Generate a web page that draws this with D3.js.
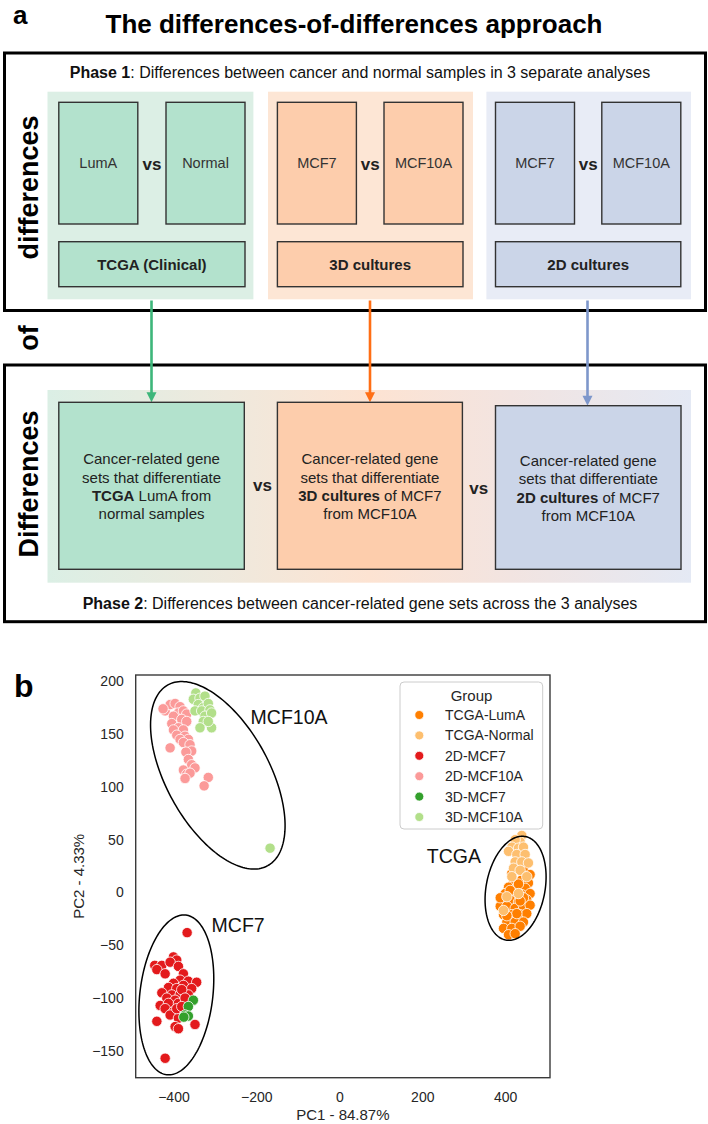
<!DOCTYPE html>
<html><head><meta charset="utf-8">
<script src="https://cdn.jsdelivr.net/npm/d3@7"></script>
<style>body{margin:0;background:#fff}svg{display:block}</style>
</head><body>
<svg id="c" width="708" height="1124"></svg>
<script>
// ---------------- DATA ----------------
const title = "The differences-of-differences approach";
const phase1Label = ["Phase 1", ": Differences between cancer and normal samples in 3 separate analyses"];
const phase2Label = ["Phase 2", ": Differences between cancer-related gene sets across the 3 analyses"];
const phase1Pairs = [["LumA", "Normal"], ["MCF7", "MCF10A"], ["MCF7", "MCF10A"]];
const phase1Sources = ["TCGA (Clinical)", "3D cultures", "2D cultures"];
const phase2Lines = [
  [[["Cancer-related gene", 0]], [["sets that differentiate", 0]], [["TCGA", 1], [" LumA from", 0]], [["normal samples", 0]]],
  [[["Cancer-related gene", 0]], [["sets that differentiate", 0]], [["3D cultures", 1], [" of MCF7", 0]], [["from MCF10A", 0]]],
  [[["Cancer-related gene", 0]], [["sets that differentiate", 0]], [["2D cultures", 1], [" of MCF7", 0]], [["from MCF10A", 0]]]
];
const sideWords = ["differences", "of", "Differences"];
const panelFills = ["#dcefe5", "#fde6d5", "#e8ecf6"];
const boxFills = ["#b3e2cd", "#fdcdac", "#cbd5e8"];
const arrowColors = ["#3db67a", "#ff6e14", "#7e97cb"];

const groups = ["TCGA-LumA", "TCGA-Normal", "2D-MCF7", "2D-MCF10A", "3D-MCF7", "3D-MCF10A"];
const groupColors = ["#ff7f00", "#fdbf6f", "#e31a1c", "#fb9a99", "#33a02c", "#b2df8a"];
const xTicks = [-400, -200, 0, 200, 400];
const yTicks = [-150, -100, -50, 0, 50, 100, 150, 200];
const xLabel = "PC1 - 84.87%";
const yLabel = "PC2 - 4.33%";

const mcf10a2D = [[-420,172],[-408,178],[-396,179],[-384,176],[-425,174],[-388,170],[-376,172],[-368,169],[-400,167],[-380,164],[-368,162],[-404,160],[-388,156],[-400,154],[-376,154],[-392,149],[-372,148],[-384,145],[-364,145],[-376,142],[-360,140],[-408,137],[-356,134],[-370,133],[-364,126],[-356,121],[-348,118],[-376,116],[-368,112],[-360,113],[-372,108],[-316,109],[-326,101]];
const mcf10a3D = [[-346,189],[-352,183],[-336,184],[-324,186],[-340,178],[-328,175],[-316,179],[-348,172],[-332,172],[-312,173],[-324,167],[-308,170],[-328,162],[-336,156],[-308,156],[-316,162],[-167,42]];
const mcf72D = [[-445,-69],[-428,-69],[-440,-73],[-420,-77],[-400,-61],[-392,-64],[-408,-66],[-388,-70],[-376,-77],[-384,-83],[-364,-84],[-344,-85],[-400,-86],[-376,-88],[-412,-90],[-392,-91],[-356,-91],[-428,-95],[-404,-97],[-384,-97],[-364,-97],[-416,-100],[-396,-102],[-368,-103],[-432,-107],[-412,-105],[-388,-105],[-420,-110],[-400,-113],[-408,-116],[-388,-119],[-440,-122],[-348,-125],[-396,-127],[-388,-129],[-420,-157],[-367,-38],[-380,-92],[-372,-100],[-392,-110],[-380,-108]];
const mcf73D = [[-352,-102],[-364,-108],[-372,-116],[-364,-117],[-375,-118]];
const tcgaLumA = [[444,21],[460,17],[420,10],[440,12],[456,9],[408,5],[428,5],[448,4],[400,-1],[420,-1],[440,-2],[460,-1],[392,-7],[412,-7],[432,-9],[452,-7],[388,-13],[404,-13],[424,-15],[444,-13],[460,-12],[396,-21],[416,-21],[436,-21],[452,-20],[404,-28],[424,-28],[444,-28],[396,-34],[416,-34],[436,-32],[408,-40],[424,-39],[388,-5],[416,18],[412,2],[432,8],[428,-20],[444,-5],[404,-22],[436,-8]];
const tcgaNormal = [[440,54],[436,48],[424,50],[416,43],[432,42],[444,43],[408,39],[428,36],[448,36],[424,29],[440,29],[456,28],[420,23],[436,21],[416,15],[452,15],[404,-4],[396,-17],[432,-1]];

// confidence ellipses (data units): centre and two conjugate half-axis vectors
const ellipses = [
  {label: "MCF10A", c: [-293, 111], u: [120.3, -85.6], v: [-108.8, -23.6], at: [-214, 160]},
  {label: "MCF7",   c: [-393, -97], u: [23.0, 75.6],   v: [87.3, -4.1],    at: [-308, -37]},
  {label: "TCGA",   c: [425, 4],    u: [23.6, 49.0],   v: [69.7, -5.2],    at: [211, 28]}
];

// ---------------- DRAW ----------------
const FONT = "'Liberation Sans', Arial, Helvetica, sans-serif";
const svg = d3.select("#c");
const defs = svg.append("defs");

// ===== Panel a =====
svg.append("text").attr("x", 13).attr("y", 24).attr("font-family", FONT)
  .attr("font-weight", "bold").attr("font-size", 26).text("a");
svg.append("text").attr("x", 354).attr("y", 33).attr("text-anchor", "middle")
  .attr("font-family", FONT).attr("font-weight", "bold").attr("font-size", 26).text(title);

const cols = [
  {bg: [47.5, 253.4], l: 58.8, r: 166, ax: 151.5, p2: [58.8, 244.3], p2top: 402.3},
  {bg: [268, 473],    l: 277.4, r: 384, ax: 370, p2: [277.4, 462.4], p2top: 402.3},
  {bg: [486.4, 691],  l: 495.5, r: 601.8, ax: 587.5, p2: [495.5, 681], p2top: 405.7}
];
const tallW = 79, tallTop = 102.3, tallBot = 224, srcTop = 241.7, srcBot = 286.7;

// panel 1 backgrounds
cols.forEach((c, i) => {
  svg.append("rect").attr("x", c.bg[0]).attr("y", 91.7).attr("width", c.bg[1] - c.bg[0])
    .attr("height", 299.3 - 91.7).attr("fill", panelFills[i]);
});
// outer box 1
svg.append("rect").attr("x", 4.5).attr("y", 53).attr("width", 701).attr("height", 257.5)
  .attr("fill", "none").attr("stroke", "#000").attr("stroke-width", 3);

const p1 = svg.append("text").attr("x", 360).attr("y", 77.5).attr("text-anchor", "middle")
  .attr("font-family", FONT).attr("font-size", 16).attr("fill", "#111");
p1.append("tspan").attr("font-weight", "bold").text(phase1Label[0]);
p1.append("tspan").text(phase1Label[1]);

cols.forEach((c, i) => {
  [c.l, c.r].forEach((bx, k) => {
    svg.append("rect").attr("x", bx).attr("y", tallTop).attr("width", tallW).attr("height", tallBot - tallTop)
      .attr("fill", boxFills[i]).attr("stroke", "#333").attr("stroke-width", 1.4);
    svg.append("text").attr("x", bx + tallW / 2).attr("y", (tallTop + tallBot) / 2)
      .attr("text-anchor", "middle").attr("dominant-baseline", "central")
      .attr("font-family", FONT).attr("font-size", 14.5).attr("fill", "#333").text(phase1Pairs[i][k]);
  });
  svg.append("text").attr("x", (c.l + tallW + c.r) / 2).attr("y", (tallTop + tallBot) / 2 + 1)
    .attr("text-anchor", "middle").attr("dominant-baseline", "central")
    .attr("font-family", FONT).attr("font-weight", "bold").attr("font-size", 17).attr("fill", "#222").text("vs");
  svg.append("rect").attr("x", c.l).attr("y", srcTop).attr("width", c.r + tallW - c.l).attr("height", srcBot - srcTop)
    .attr("fill", boxFills[i]).attr("stroke", "#333").attr("stroke-width", 1.4);
  svg.append("text").attr("x", (c.l + c.r + tallW) / 2).attr("y", (srcTop + srcBot) / 2)
    .attr("text-anchor", "middle").attr("dominant-baseline", "central")
    .attr("font-family", FONT).attr("font-weight", "bold").attr("font-size", 15).attr("fill", "#222").text(phase1Sources[i]);
});

// Phase 2 gradient background
const grad = defs.append("linearGradient").attr("id", "g2").attr("x1", "0").attr("x2", "1").attr("y1", "0").attr("y2", "0");
[["0", "#dbefe5"], ["0.28", "#efe9dd"], ["0.5", "#fde3d2"], ["0.72", "#f2e4e1"], ["1", "#e4e9f4"]]
  .forEach(s => grad.append("stop").attr("offset", s[0]).attr("stop-color", s[1]));
svg.append("rect").attr("x", 47.5).attr("y", 390).attr("width", 691 - 47.5).attr("height", 582.7 - 390)
  .attr("fill", "url(#g2)");
svg.append("rect").attr("x", 4.5).attr("y", 365).attr("width", 701).attr("height", 256.7)
  .attr("fill", "none").attr("stroke", "#000").attr("stroke-width", 3);

// arrows
cols.forEach((c, i) => {
  svg.append("line").attr("x1", c.ax).attr("x2", c.ax).attr("y1", 300.5).attr("y2", c.p2top - 8)
    .attr("stroke", arrowColors[i]).attr("stroke-width", 2.6);
  svg.append("path").attr("d", `M${c.ax - 5},${c.p2top - 10} L${c.ax + 5},${c.p2top - 10} L${c.ax},${c.p2top} Z`)
    .attr("fill", arrowColors[i]);
});

// phase 2 boxes
const p2Bot = 569.3;
cols.forEach((c, i) => {
  svg.append("rect").attr("x", c.p2[0]).attr("y", c.p2top).attr("width", c.p2[1] - c.p2[0]).attr("height", p2Bot - c.p2top)
    .attr("fill", boxFills[i]).attr("stroke", "#333").attr("stroke-width", 1.4);
  const cy = (c.p2top + p2Bot) / 2, lh = 18.3;
  phase2Lines[i].forEach((line, j) => {
    const t = svg.append("text").attr("x", (c.p2[0] + c.p2[1]) / 2).attr("y", cy + (j - 1.5) * lh)
      .attr("text-anchor", "middle").attr("dominant-baseline", "central")
      .attr("font-family", FONT).attr("font-size", 15).attr("fill", "#222");
    line.forEach(seg => t.append("tspan").attr("font-weight", seg[1] ? "bold" : null).text(seg[0]));
  });
});
[[262.4, 485], [478.7, 488.3]].forEach(p => {
  svg.append("text").attr("x", p[0]).attr("y", p[1]).attr("text-anchor", "middle").attr("dominant-baseline", "central")
    .attr("font-family", FONT).attr("font-weight", "bold").attr("font-size", 17).attr("fill", "#222").text("vs");
});
const p2 = svg.append("text").attr("x", 360).attr("y", 609).attr("text-anchor", "middle")
  .attr("font-family", FONT).attr("font-size", 16).attr("fill", "#111");
p2.append("tspan").attr("font-weight", "bold").text(phase2Label[0]);
p2.append("tspan").text(phase2Label[1]);

// side words
[[187.5], [338], [484]].forEach((p, i) => {
  svg.append("text").attr("transform", `translate(29,${p[0]}) rotate(-90)`)
    .attr("text-anchor", "middle").attr("dominant-baseline", "central")
    .attr("font-family", FONT).attr("font-weight", "bold").attr("font-size", 27).attr("fill", "#000").text(sideWords[i]);
});

// ===== Panel b =====
svg.append("text").attr("x", 14).attr("y", 697).attr("font-family", FONT)
  .attr("font-weight", "bold").attr("font-size", 32).text("b");

const x = d3.scaleLinear().domain([-491, 508]).range([135.7, 550]);
const y = d3.scaleLinear().domain([-175.4, 206]).range([1077.7, 675]);
const TXT = "#262626";

const plot = svg.append("g");
const xAxis = plot.append("g").attr("transform", `translate(0,${y.range()[0]})`)
  .call(d3.axisBottom(x).tickValues(xTicks).tickSize(0).tickPadding(14));
const yAxis = plot.append("g").attr("transform", `translate(${x.range()[0]},0)`)
  .call(d3.axisLeft(y).tickValues(yTicks).tickSize(0).tickPadding(12));
[xAxis, yAxis].forEach(a => {
  a.select(".domain").remove();
  a.selectAll("text").attr("font-family", FONT).attr("font-size", 14).attr("fill", TXT);
});

// points
const series = [
  [mcf10a2D, "2D-MCF10A"], [mcf10a3D, "3D-MCF10A"], [mcf72D, "2D-MCF7"], [mcf73D, "3D-MCF7"],
  [tcgaLumA, "TCGA-LumA"], [tcgaNormal, "TCGA-Normal"]
];
const color = d3.scaleOrdinal().domain(groups).range(groupColors);
series.forEach(([pts, g]) => {
  plot.append("g").selectAll("circle").data(pts).join("circle")
    .attr("cx", d => x(d[0])).attr("cy", d => y(d[1])).attr("r", 5.2)
    .attr("fill", color(g)).attr("stroke", "#fff").attr("stroke-width", 0.8);
});

// ellipses
const line = d3.line().x(d => x(d[0])).y(d => y(d[1])).curve(d3.curveLinearClosed);
ellipses.forEach(e => {
  const pts = d3.range(0, 2 * Math.PI, Math.PI / 90).map(t => [
    e.c[0] + e.u[0] * Math.cos(t) + e.v[0] * Math.sin(t),
    e.c[1] + e.u[1] * Math.cos(t) + e.v[1] * Math.sin(t)
  ]);
  plot.append("path").attr("d", line(pts)).attr("fill", "none").attr("stroke", "#000").attr("stroke-width", 1.5);
  plot.append("text").attr("x", x(e.at[0])).attr("y", y(e.at[1])).attr("font-family", FONT)
    .attr("font-size", 19.5).attr("fill", "#111").text(e.label);
});

// frame
plot.append("rect").attr("x", x.range()[0]).attr("y", y.range()[1])
  .attr("width", x.range()[1] - x.range()[0]).attr("height", y.range()[0] - y.range()[1])
  .attr("fill", "none").attr("stroke", "#3a3a3a").attr("stroke-width", 1.4);

// axis labels
plot.append("text").attr("x", (x.range()[0] + x.range()[1]) / 2).attr("y", 1119.5).attr("text-anchor", "middle")
  .attr("font-family", FONT).attr("font-size", 15).attr("fill", TXT).text(xLabel);
plot.append("text").attr("transform", `translate(84,${(y.range()[0] + y.range()[1]) / 2}) rotate(-90)`)
  .attr("text-anchor", "middle").attr("font-family", FONT).attr("font-size", 15).attr("fill", TXT).text(yLabel);

// legend
const lg = plot.append("g");
lg.append("rect").attr("x", 400).attr("y", 682).attr("width", 142.7).attr("height", 147).attr("rx", 4)
  .attr("fill", "#fff").attr("fill-opacity", 0.8).attr("stroke", "#cccccc").attr("stroke-width", 1);
lg.append("text").attr("x", 471.5).attr("y", 695).attr("text-anchor", "middle").attr("dominant-baseline", "central")
  .attr("font-family", FONT).attr("font-size", 15).attr("fill", TXT).text("Group");
groups.forEach((g, i) => {
  const yy = 715 + i * 20.4;
  lg.append("circle").attr("cx", 419.3).attr("cy", yy).attr("r", 4.5).attr("fill", color(g))
    .attr("stroke", "#fff").attr("stroke-width", 0.8);
  lg.append("text").attr("x", 445).attr("y", yy).attr("dominant-baseline", "central")
    .attr("font-family", FONT).attr("font-size", 14).attr("fill", TXT).text(g);
});
</script>
</body></html>
